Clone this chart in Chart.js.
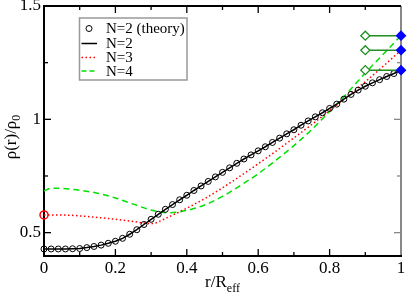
<!DOCTYPE html>
<html>
<head>
<meta charset="utf-8">
<script src="https://cdn.jsdelivr.net/npm/chart.js@4"></script>
<style>
  html, body { margin: 0; padding: 0; background: #fff; }
  #wrap { width: 407px; height: 295px; }
</style>
</head>
<body>
<div id="wrap"><canvas id="c"></canvas></div>
<script>
// values
const rTheory = [0, 0.02, 0.04, 0.06, 0.08, 0.10, 0.12, 0.14, 0.16, 0.18,
                 0.20, 0.22, 0.24, 0.26, 0.28, 0.30, 0.32, 0.34, 0.36, 0.38,
                 0.40, 0.42, 0.44, 0.46, 0.48, 0.50, 0.52, 0.54, 0.56, 0.58,
                 0.60, 0.62, 0.64, 0.66, 0.68, 0.70, 0.72, 0.74, 0.76, 0.78,
                 0.80, 0.82, 0.84, 0.86, 0.88, 0.90, 0.92, 0.94, 0.96, 0.98, 1.00];
const n2Theory = [0.428, 0.428, 0.428, 0.428, 0.429, 0.430, 0.434, 0.439, 0.445, 0.453,
                  0.462, 0.475, 0.493, 0.513, 0.536, 0.559, 0.581, 0.603, 0.624, 0.645,
                  0.665, 0.686, 0.706, 0.726, 0.746, 0.766, 0.786, 0.806, 0.825, 0.843,
                  0.861, 0.879, 0.898, 0.917, 0.936, 0.954, 0.974, 0.993, 1.011, 1.029,
                  1.048, 1.067, 1.089, 1.110, 1.129, 1.146, 1.161, 1.175, 1.189, 1.202, 1.216];

const rN3 = [0, 0.05, 0.10, 0.15, 0.20, 0.25, 0.30, 0.35, 0.40, 0.45, 0.50,
             0.55, 0.60, 0.65, 0.70, 0.75, 0.80, 0.85, 0.90, 0.95, 1.00];
const n3 = [0.578, 0.578, 0.574, 0.567, 0.559, 0.549, 0.540, 0.570, 0.608, 0.650, 0.698,
            0.750, 0.804, 0.860, 0.918, 0.977, 1.038, 1.101, 1.166, 1.234, 1.305];

const rN4 = [0, 0.02, 0.05, 0.10, 0.15, 0.20, 0.25, 0.30, 0.35, 0.40, 0.45, 0.50,
             0.55, 0.60, 0.65, 0.70, 0.75, 0.80, 0.85, 0.90, 0.95, 1.00];
const n4 = [0.684, 0.696, 0.695, 0.687, 0.674, 0.653, 0.626, 0.600, 0.588, 0.598, 0.622, 0.660,
            0.708, 0.760, 0.820, 0.884, 0.955, 1.035, 1.117, 1.204, 1.287, 1.369];

// edge values (N=4, N=3, N=2) marked between r=0.9 and r=1
const edgeR = [0.9, 1.0];
const edgeLevels = [1.369, 1.305, 1.217];
const centreN3 = 0.578;

const xTicks = [0, 0.2, 0.4, 0.6, 0.8, 1];
const xTickLabels = ['0', '0.2', '0.4', '0.6', '0.8', '1'];
const xMinor = [0.1, 0.3, 0.5, 0.7, 0.9];
const yTicks = [0.5, 1, 1.5];
const yTickLabels = ['0.5', '1', '1.5'];
const yMinor = [0.75, 1.25];

const pts = (xs, ys) => xs.map((x, i) => ({ x: x, y: ys[i] }));
const serif = '"Liberation Serif", "DejaVu Serif", serif';

const edgeSets = edgeLevels.map(v => ({
  data: pts(edgeR, [v, v]),
  showLine: true,
  borderColor: '#1f8f1f',
  borderWidth: 1.5,
  pointStyle: 'rectRot',
  pointRadius: 4.5,
  pointBorderWidth: 1.3,
  pointBorderColor: ['#1f8f1f', '#0000ff'],
  pointBackgroundColor: ['#ffffff', '#0000ff'],
  clip: false
}));

const frame = {
  id: 'frame',
  beforeDatasetsDraw(chart) {
    const { ctx, chartArea: a, scales: { x, y } } = chart;
    const seg = (x1, y1, x2, y2) => { ctx.beginPath(); ctx.moveTo(x1, y1); ctx.lineTo(x2, y2); ctx.stroke(); };
    ctx.save();
    ctx.lineWidth = 1.3;
    ctx.strokeStyle = '#000';
    xTicks.forEach(v => { const p = x.getPixelForValue(v); seg(p, a.bottom, p, a.bottom - 7); seg(p, a.top, p, a.top + 7); });
    xMinor.forEach(v => { const p = x.getPixelForValue(v); seg(p, a.bottom, p, a.bottom - 4); seg(p, a.top, p, a.top + 4); });
    yTicks.forEach(v => { const p = y.getPixelForValue(v); seg(a.left, p, a.left + 7, p); });
    yMinor.forEach(v => { const p = y.getPixelForValue(v); seg(a.left, p, a.left + 4, p); });
    ctx.strokeStyle = '#888';
    yTicks.forEach(v => { const p = y.getPixelForValue(v); seg(a.right, p, a.right - 7, p); });
    yMinor.forEach(v => { const p = y.getPixelForValue(v); seg(a.right, p, a.right - 4, p); });
    ctx.lineWidth = 2;
    seg(a.right, a.top, a.right, a.bottom);
    ctx.strokeStyle = '#000';
    seg(a.left, a.top, a.right, a.top);
    seg(a.left, a.bottom, a.right + 1, a.bottom);
    seg(a.left, a.top - 1, a.left, a.bottom + 1);
    ctx.restore();
  }
};

const legendBox = {
  id: 'legendBox',
  afterDraw(chart) {
    const ctx = chart.ctx;
    ctx.save();
    ctx.strokeStyle = '#999';
    ctx.lineWidth = 1.5;
    ctx.strokeRect(79.5, 18, 107.5, 62);
    const rows = [
      { label: 'N=2 (theory)', y: 28.5, mark: 'circle' },
      { label: 'N=2', y: 43.5, color: '#000', dash: [] },
      { label: 'N=3', y: 57.5, color: '#ff0000', dash: [1.5, 2.5] },
      { label: 'N=4', y: 71, color: '#00e000', dash: [5, 3] }
    ];
    ctx.font = '15px ' + serif;
    ctx.textBaseline = 'middle';
    ctx.fillStyle = '#000';
    rows.forEach(r => {
      if (r.mark) {
        ctx.strokeStyle = '#000';
        ctx.lineWidth = 1;
        ctx.beginPath(); ctx.arc(89, r.y, 3, 0, Math.PI * 2); ctx.stroke();
      } else {
        ctx.strokeStyle = r.color;
        ctx.lineWidth = 1.5;
        ctx.setLineDash(r.dash);
        ctx.beginPath(); ctx.moveTo(81.5, r.y); ctx.lineTo(97, r.y); ctx.stroke();
        ctx.setLineDash([]);
      }
      ctx.fillText(r.label, 106, r.y + 1);
    });
    ctx.restore();
  }
};

const titles = {
  id: 'titles',
  afterDraw(chart) {
    const { ctx, chartArea: a } = chart;
    const big = '17px ' + serif, small = '12px ' + serif;
    ctx.save();
    ctx.fillStyle = '#000';
    ctx.textBaseline = 'alphabetic';
    ctx.textAlign = 'left';
    // x title r/R_eff
    ctx.font = big; const w1 = ctx.measureText('r/R').width;
    ctx.font = small; const w2 = ctx.measureText('eff').width;
    const x0 = (a.left + a.right) / 2 - (w1 + w2) / 2;
    ctx.font = big; ctx.fillText('r/R', x0, 287);
    ctx.font = small; ctx.fillText('eff', x0 + w1, 292);
    // y title rho(r)/rho_0
    ctx.translate(16, 137);
    ctx.rotate(-Math.PI / 2);
    ctx.font = big; const v1 = ctx.measureText('ρ(r)/ρ').width;
    ctx.font = small; const v2 = ctx.measureText('0').width;
    const y0 = -(v1 + v2) / 2;
    ctx.font = big; ctx.fillText('ρ(r)/ρ', y0, 0);
    ctx.font = small; ctx.fillText('0', y0 + v1, 4);
    ctx.restore();
  }
};

new Chart(document.getElementById('c'), {
  type: 'scatter',
  data: {
    datasets: [
      ...edgeSets,
      {
        data: [{ x: 0, y: centreN3 }],
        pointRadius: 4,
        pointBorderWidth: 1.5,
        pointBorderColor: '#ff0000',
        pointBackgroundColor: 'rgba(0,0,0,0)',
        clip: false
      },
      {
        data: pts(rTheory, n2Theory),
        showLine: false,
        pointRadius: 3,
        pointBorderWidth: 1,
        pointBorderColor: '#000',
        pointBackgroundColor: 'rgba(0,0,0,0)',
        clip: false
      },
      {
        data: pts(rTheory, n2Theory),
        showLine: true,
        borderColor: '#000',
        borderWidth: 1.5,
        pointRadius: 0
      },
      {
        data: pts(rN3, n3),
        showLine: true,
        borderColor: '#ff0000',
        borderWidth: 1.5,
        borderDash: [1.5, 2.5],
        cubicInterpolationMode: 'monotone',
        pointRadius: 0
      },
      {
        data: pts(rN4, n4),
        showLine: true,
        borderColor: '#00e000',
        borderWidth: 1.5,
        borderDash: [6, 4],
        cubicInterpolationMode: 'monotone',
        pointRadius: 0
      }
    ]
  },
  options: {
    responsive: true,
    maintainAspectRatio: false,
    animation: false,
    layout: { padding: { top: 6, right: 6, left: 0, bottom: 0 } },
    plugins: { legend: { display: false }, tooltip: { enabled: false } },
    scales: {
      x: {
        type: 'linear', min: 0, max: 1,
        grid: { display: false, drawTicks: false },
        border: { display: false },
        afterBuildTicks: s => { s.ticks = xTicks.map(v => ({ value: v })); },
        afterFit: s => { s.height = 39; s.paddingLeft = 0; s.paddingRight = 0; },
        ticks: {
          callback: (v, i) => xTickLabels[i],
          font: { family: serif, size: 17 }, color: '#000',
          padding: 2, maxRotation: 0, autoSkip: false
        }
      },
      y: {
        type: 'linear', min: 0.397, max: 1.5,
        grid: { display: false, drawTicks: false },
        border: { display: false },
        afterBuildTicks: s => { s.ticks = yTicks.map(v => ({ value: v })); },
        afterFit: s => { s.width = 44; s.paddingTop = 0; s.paddingBottom = 0; },
        ticks: {
          callback: (v, i) => yTickLabels[i],
          font: { family: serif, size: 17 }, color: '#000',
          padding: 3, autoSkip: false
        }
      }
    }
  },
  plugins: [frame, legendBox, titles]
});
</script>
</body>
</html>
